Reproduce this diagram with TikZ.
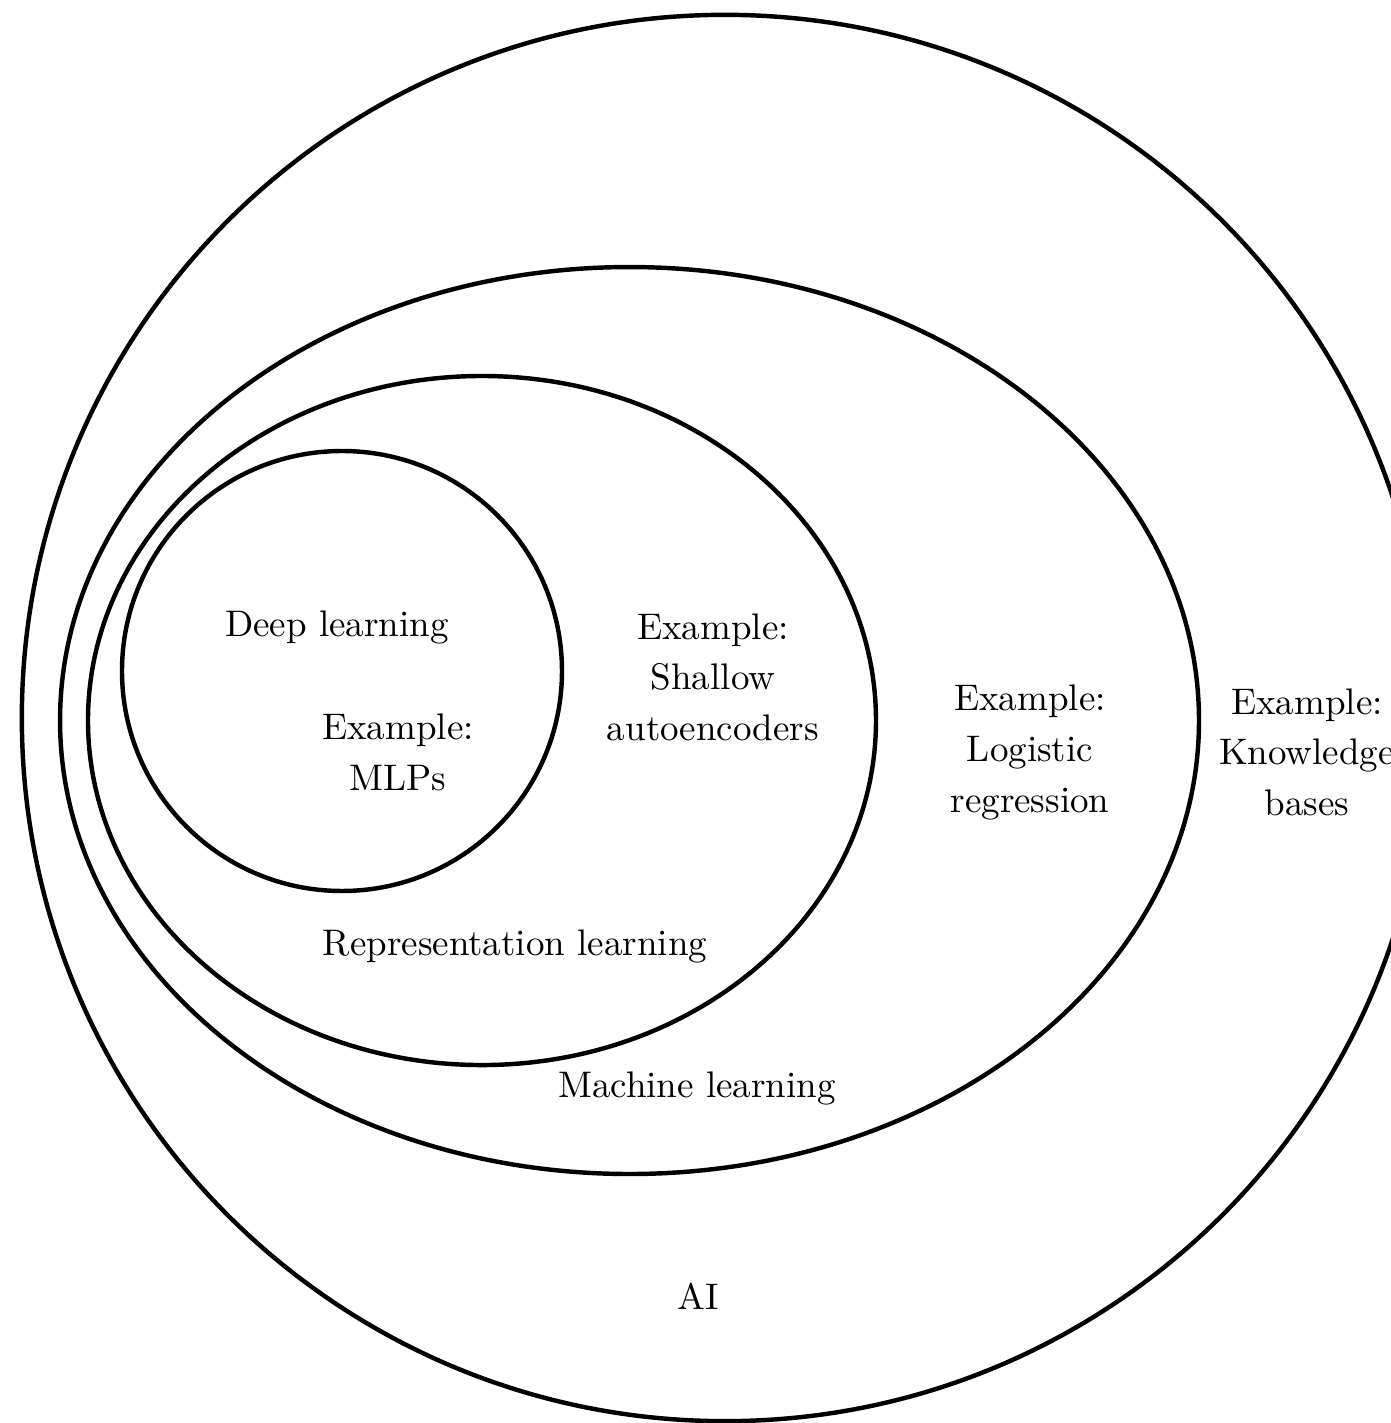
\documentclass[tikz,border=0pt]{standalone}
\usepackage{tikz}

\begin{document}
\begin{tikzpicture}[
  every node/.style={align=center,font=\fontsize{10}{13.7}\selectfont},%
  set/.style={very thick,draw=black},%
  lb/.style={inner sep=0pt},%
  ]
  \useasboundingbox (-6.8875,-6.6975) rectangle (6.327,6.821);

  % the nested sets
  \draw [set] (0,0) circle [radius=6.68];
  \draw [set] (-0.907,-0.024) ellipse [x radius=5.41, y radius=4.308];
  \draw [set] (-2.3085,-0.024) ellipse [x radius=3.743, y radius=3.273];
  \draw [set] (-3.6385,0.4465) circle [radius=2.09];

  \node (dl) [lb] at (-3.687,0.862) {Deep learning};
  \node (mlp) [lb] at (-3.1065,-0.326) {Example:\\MLPs};
  \node (sae) [lb] at (-0.114,0.387) {Example:\\Shallow\\autoencoders};
  \node (lr) [lb] at (2.8975,-0.326) {Example:\\Logistic\\regression};
  \node (kb) [lb] at (5.529,-0.326) {Example:\\Knowledge\\bases};

  \node (rl) [lb] at (-1.995,-2.172) {Representation learning};
  \node (ml) [lb] at (-0.266,-3.522) {Machine learning};
  \node (ai) [lb] at (-0.2565,-5.494) {AI};
\end{tikzpicture}
\end{document}
